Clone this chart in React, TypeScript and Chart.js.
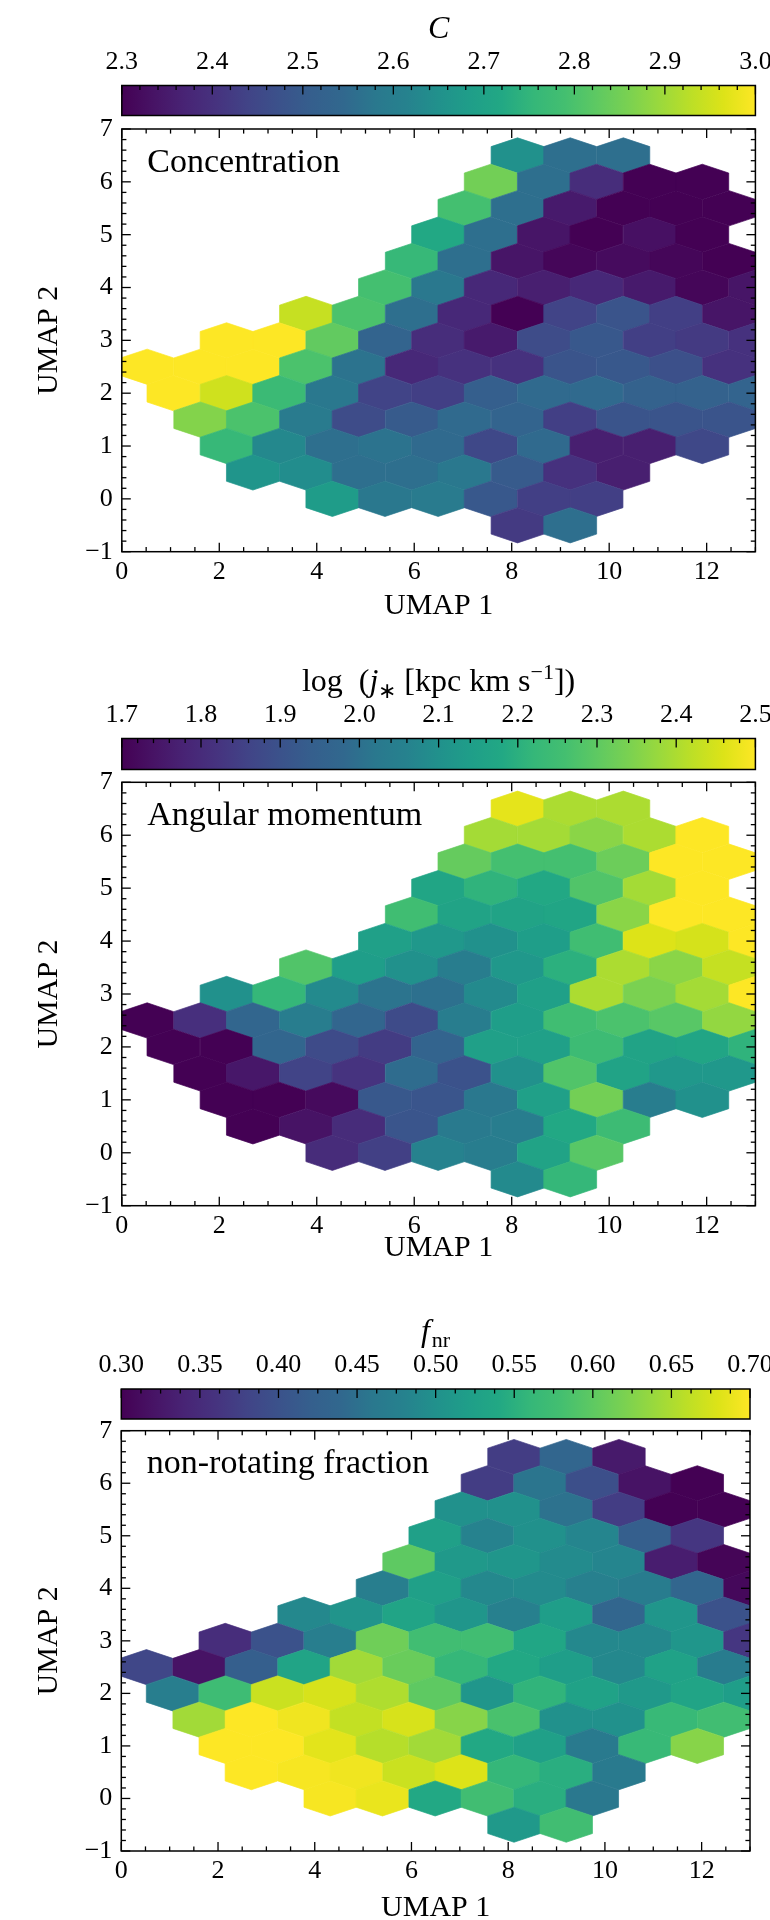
import React, { useEffect, useRef } from "react";
import { Chart, registerables } from "chart.js";
Chart.register(...registerables);

const SERIF = '"Liberation Serif", "Times New Roman", serif';

// ---------------- hexbin grid (UMAP coordinates of bin centres) ----------------
const rowY = [6.5, 6, 5.5, 5, 4.5, 4, 3.5, 3, 2.5, 2, 1.5, 1, 0.5, 0, -0.5];
const rowX = [
  [8.12, 9.2, 10.29],
  [7.57, 8.66, 9.74, 10.83, 11.91],
  [7.03, 8.12, 9.2, 10.29, 11.37, 12.46],
  [6.49, 7.57, 8.66, 9.74, 10.83, 11.91],
  [5.95, 7.03, 8.12, 9.2, 10.29, 11.37, 12.46],
  [5.4, 6.49, 7.57, 8.66, 9.74, 10.83, 11.91, 13.0],
  [3.78, 4.86, 5.95, 7.03, 8.12, 9.2, 10.29, 11.37, 12.46],
  [2.15, 3.23, 4.32, 5.4, 6.49, 7.57, 8.66, 9.74, 10.83, 11.91, 13.0],
  [0.52, 1.61, 2.69, 3.78, 4.86, 5.95, 7.03, 8.12, 9.2, 10.29, 11.37, 12.46],
  [1.06, 2.15, 3.23, 4.32, 5.4, 6.49, 7.57, 8.66, 9.74, 10.83, 11.91, 13.0],
  [1.61, 2.69, 3.78, 4.86, 5.95, 7.03, 8.12, 9.2, 10.29, 11.37, 12.46],
  [2.15, 3.23, 4.32, 5.4, 6.49, 7.57, 8.66, 9.74, 10.83, 11.91],
  [2.69, 3.78, 4.86, 5.95, 7.03, 8.12, 9.2, 10.29],
  [4.32, 5.4, 6.49, 7.57, 8.66, 9.74],
  [8.12, 9.2],
];

// concentration C
const concentration = [
  [2.65, 2.56, 2.56],
  [2.85, 2.56, 2.39, 2.29, 2.29],
  [2.79, 2.56, 2.35, 2.29, 2.29, 2.29],
  [2.72, 2.56, 2.34, 2.29, 2.33, 2.29],
  [2.76, 2.56, 2.34, 2.31, 2.32, 2.31, 2.3],
  [2.79, 2.58, 2.38, 2.36, 2.38, 2.35, 2.31, 2.34],
  [2.94, 2.8, 2.56, 2.38, 2.29, 2.44, 2.48, 2.43, 2.34],
  [3.01, 3.01, 2.83, 2.53, 2.39, 2.35, 2.46, 2.49, 2.43, 2.42, 2.4],
  [3.03, 3.05, 3.02, 2.8, 2.57, 2.38, 2.4, 2.4, 2.48, 2.49, 2.47, 2.4],
  [3.02, 2.95, 2.77, 2.58, 2.44, 2.43, 2.51, 2.55, 2.55, 2.52, 2.52, 2.53],
  [2.87, 2.8, 2.59, 2.46, 2.5, 2.55, 2.53, 2.43, 2.48, 2.48, 2.48],
  [2.76, 2.63, 2.56, 2.57, 2.55, 2.45, 2.55, 2.36, 2.36, 2.45],
  [2.66, 2.64, 2.56, 2.56, 2.58, 2.5, 2.4, 2.36],
  [2.68, 2.58, 2.59, 2.49, 2.43, 2.43],
  [2.42, 2.56],
];

// log j* [kpc km/s]
const logJ = [
  [2.47, 2.4, 2.4],
  [2.39, 2.39, 2.36, 2.4, 2.52],
  [2.31, 2.26, 2.26, 2.32, 2.53, 2.55],
  [2.17, 2.21, 2.18, 2.28, 2.39, 2.54],
  [2.25, 2.16, 2.16, 2.17, 2.36, 2.56, 2.53],
  [2.15, 2.12, 2.1, 2.14, 2.25, 2.46, 2.45, 2.52],
  [2.28, 2.14, 2.1, 2.04, 2.12, 2.2, 2.4, 2.36, 2.43],
  [2.1, 2.22, 2.08, 2.01, 2.0, 2.08, 2.15, 2.4, 2.34, 2.39, 2.51],
  [1.66, 1.81, 1.97, 2.04, 1.97, 1.88, 2.04, 2.14, 2.25, 2.27, 2.29, 2.37],
  [1.64, 1.67, 1.97, 1.88, 1.84, 1.96, 2.15, 2.15, 2.24, 2.16, 2.17, 2.21],
  [1.62, 1.75, 1.86, 1.82, 1.99, 1.9, 2.1, 2.28, 2.16, 2.12, 2.12],
  [1.63, 1.65, 1.72, 1.92, 1.91, 2.02, 2.15, 2.33, 2.04, 2.1],
  [1.66, 1.74, 1.8, 1.91, 2.03, 2.04, 2.18, 2.24],
  [1.8, 1.85, 2.06, 2.04, 2.16, 2.29],
  [2.08, 2.22],
];

// non-rotating fraction f_nr
const fNR = [
  [0.372, 0.436, 0.328],
  [0.372, 0.456, 0.396, 0.32, 0.295],
  [0.5, 0.5, 0.452, 0.372, 0.29, 0.292],
  [0.524, 0.48, 0.5, 0.484, 0.42, 0.364],
  [0.6, 0.512, 0.508, 0.492, 0.484, 0.332, 0.304],
  [0.472, 0.524, 0.488, 0.492, 0.476, 0.468, 0.436, 0.308],
  [0.488, 0.504, 0.532, 0.508, 0.476, 0.52, 0.436, 0.508, 0.4],
  [0.352, 0.4, 0.472, 0.612, 0.576, 0.576, 0.536, 0.488, 0.488, 0.508, 0.364],
  [0.384, 0.32, 0.42, 0.532, 0.644, 0.608, 0.56, 0.54, 0.52, 0.488, 0.528, 0.468],
  [0.472, 0.572, 0.668, 0.676, 0.652, 0.6, 0.508, 0.556, 0.528, 0.512, 0.532, 0.52],
  [0.644, 0.708, 0.692, 0.664, 0.676, 0.628, 0.584, 0.5, 0.5, 0.564, 0.576],
  [0.712, 0.705, 0.684, 0.656, 0.644, 0.54, 0.524, 0.464, 0.564, 0.628],
  [0.71, 0.696, 0.692, 0.668, 0.68, 0.56, 0.548, 0.464],
  [0.696, 0.688, 0.54, 0.576, 0.548, 0.46],
  [0.512, 0.576],
];

// hexagon size in data units (width, vertical lattice period)
const HEX_W = 1.085;
const HEX_H = 1.0;

// tick labels
const umap1Ticks = [0, 2, 4, 6, 8, 10, 12];
const umap2Ticks = [-1, 0, 1, 2, 3, 4, 5, 6, 7];
const cTicks = [2.3, 2.4, 2.5, 2.6, 2.7, 2.8, 2.9, 3.0];
const jTicks = [1.7, 1.8, 1.9, 2.0, 2.1, 2.2, 2.3, 2.4, 2.5];
const fTicks = [0.3, 0.35, 0.4, 0.45, 0.5, 0.55, 0.6, 0.65, 0.7];

// viridis colormap stops (t = i/20)
const VIRIDIS = [
  [68, 1, 84], [71, 19, 101], [72, 36, 117], [70, 51, 127], [65, 68, 135],
  [59, 82, 139], [53, 95, 141], [49, 104, 142], [42, 120, 142], [38, 130, 142],
  [33, 145, 140], [31, 158, 137], [34, 168, 132], [53, 183, 121], [68, 191, 112],
  [94, 201, 98], [122, 209, 81], [155, 217, 60], [189, 223, 38], [221, 227, 24],
  [253, 231, 37],
];

function viridis(t: number): string {
  const c = Math.min(1, Math.max(0, t)) * (VIRIDIS.length - 1);
  const i = Math.min(VIRIDIS.length - 2, Math.floor(c));
  const f = c - i;
  const a = VIRIDIS[i], b = VIRIDIS[i + 1];
  const r = Math.round(a[0] + (b[0] - a[0]) * f);
  const g = Math.round(a[1] + (b[1] - a[1]) * f);
  const bl = Math.round(a[2] + (b[2] - a[2]) * f);
  return `rgb(${r},${g},${bl})`;
}

type Part = { t: string; it?: boolean; size?: number; dy?: number };

const TITLE_SIZE = 32;
const SUB_SIZE = 22;
const TICK_SIZE = 26;
const LABEL_SIZE = 30;

function drawRich(ctx: CanvasRenderingContext2D, parts: Part[], cx: number, baseY: number) {
  const font = (p: Part) => `${p.it ? "italic " : ""}${p.size || TITLE_SIZE}px ${SERIF}`;
  let total = 0;
  parts.forEach((p) => {
    ctx.font = font(p);
    total += ctx.measureText(p.t).width;
  });
  let x = cx - total / 2;
  ctx.textAlign = "left";
  ctx.textBaseline = "alphabetic";
  ctx.fillStyle = "#000";
  parts.forEach((p) => {
    ctx.font = font(p);
    ctx.fillText(p.t, x, baseY + (p.dy || 0));
    x += ctx.measureText(p.t).width;
  });
}

const signed = (v: number) => (v < 0 ? "\u2212" + Math.abs(v) : String(v));

type PanelCfg = {
  values: number[][];
  ticks: number[];
  vmin: number;
  vmax: number;
  dec: number;
  minorDiv: number;
  title: Part[];
  label: string;
  L: number; R: number; T: number; B: number;
  cbT: number; cbB: number; xlab: number;
};

const PANELS: PanelCfg[] = [
  {
    values: concentration, ticks: cTicks, vmin: 2.3, vmax: 3.0, dec: 1, minorDiv: 5,
    title: [{ t: "C", it: true }], label: "Concentration",
    L: 121.8, R: 755.4, T: 129, B: 551.7, cbT: 85.5, cbB: 115.5, xlab: 606,
  },
  {
    values: logJ, ticks: jTicks, vmin: 1.7, vmax: 2.5, dec: 1, minorDiv: 5,
    title: [
      { t: "log\u2002(" }, { t: "j", it: true }, { t: "\u2217", size: SUB_SIZE, dy: 7 },
      { t: " [kpc km s" }, { t: "\u22121", size: SUB_SIZE, dy: -12 }, { t: "])" },
    ],
    label: "Angular momentum",
    L: 121.8, R: 755.4, T: 782.3, B: 1205.7, cbT: 738.5, cbB: 769.5, xlab: 1248,
  },
  {
    values: fNR, ticks: fTicks, vmin: 0.3, vmax: 0.7, dec: 2, minorDiv: 4,
    title: [{ t: "f", it: true }, { t: "\u200anr", size: SUB_SIZE, dy: 6 }],
    label: "non-rotating fraction",
    L: 121.3, R: 750, T: 1430.7, B: 1851, cbT: 1389, cbB: 1419, xlab: 1908,
  },
];

const MAJOR = 9;
const MINOR = 4.6;

function line(ctx: CanvasRenderingContext2D, x1: number, y1: number, x2: number, y2: number) {
  ctx.beginPath();
  ctx.moveTo(x1, y1);
  ctx.lineTo(x2, y2);
  ctx.stroke();
}

function Panel({ cfg }: { cfg: PanelCfg }) {
  const cbRef = useRef<HTMLCanvasElement>(null);
  const plotRef = useRef<HTMLCanvasElement>(null);

  const cbTop = Math.floor(cfg.cbT - 80);
  const cbPadTop = cfg.cbT - cbTop;
  const cbH = Math.ceil(cfg.cbB - cbTop + 4);

  const plTop = Math.floor(cfg.T - 12);
  const plPadTop = cfg.T - plTop;
  const plH = Math.ceil(cfg.xlab + 22 - plTop);

  useEffect(() => {
    // ---------------- colorbar ----------------
    const cbPlugin = {
      id: "colorbar",
      afterDraw(chart: any) {
        const { ctx, chartArea: a, scales } = chart;
        const x = scales.x;
        ctx.save();
        const g = ctx.createLinearGradient(a.left, 0, a.right, 0);
        VIRIDIS.forEach((c, i) => g.addColorStop(i / (VIRIDIS.length - 1), `rgb(${c[0]},${c[1]},${c[2]})`));
        ctx.fillStyle = g;
        ctx.fillRect(a.left, a.top, a.right - a.left, a.bottom - a.top);
        ctx.strokeStyle = "#000";
        ctx.lineWidth = 1.5;
        ctx.strokeRect(a.left, a.top, a.right - a.left, a.bottom - a.top);
        ctx.lineWidth = 1.3;
        const step = (cfg.ticks[1] - cfg.ticks[0]) / cfg.minorDiv;
        for (let k = 0; cfg.vmin + k * step <= cfg.vmax + 1e-9; k++) {
          const v = cfg.vmin + k * step;
          const p = x.getPixelForValue(v);
          const isMajor = k % cfg.minorDiv === 0;
          line(ctx, p, a.top, p, a.top + (isMajor ? MAJOR : MINOR));
        }
        drawRich(ctx, cfg.title, (a.left + a.right) / 2, a.top - 48);
        ctx.restore();
      },
    };

    const cb = new Chart(cbRef.current!, {
      type: "scatter",
      data: { datasets: [{ data: [], pointRadius: 0 }] },
      options: {
        animation: false,
        responsive: false,
        events: [],
        layout: {
          autoPadding: false,
          padding: { left: cfg.L, right: 770 - cfg.R, top: 0, bottom: cbH - (cfg.cbB - cbTop) },
        },
        plugins: { legend: { display: false }, tooltip: { enabled: false } },
        scales: {
          x: {
            type: "linear",
            position: "top",
            min: cfg.vmin,
            max: cfg.vmax,
            grid: { display: false, drawTicks: false },
            border: { display: false },
            afterBuildTicks: (s: any) => {
              s.ticks = cfg.ticks.map((v) => ({ value: v }));
            },
            afterFit: (s: any) => {
              s.height = cbPadTop;
              s.paddingLeft = 0;
              s.paddingRight = 0;
            },
            ticks: {
              autoSkip: false,
              maxRotation: 0,
              padding: 8,
              color: "#000",
              font: { family: SERIF, size: TICK_SIZE },
              callback: (v: any) => Number(v).toFixed(cfg.dec),
            },
          },
          y: { display: false, min: 0, max: 1 },
        },
      } as any,
      plugins: [cbPlugin],
    });

    // ---------------- hexbin plot ----------------
    const cells: { x: number; y: number; v: number }[] = [];
    rowY.forEach((y, i) => rowX[i].forEach((x, j) => cells.push({ x, y, v: cfg.values[i][j] })));

    const hexPlugin = {
      id: "hexbins",
      beforeDatasetsDraw(chart: any) {
        const { ctx, chartArea: a, scales } = chart;
        const xs = scales.x, ys = scales.y;
        ctx.save();
        ctx.beginPath();
        ctx.rect(a.left, a.top, a.right - a.left, a.bottom - a.top);
        ctx.clip();
        chart.data.datasets[0].data.forEach((c: any) => {
          const col = viridis((c.v - cfg.vmin) / (cfg.vmax - cfg.vmin));
          const x0 = xs.getPixelForValue(c.x - HEX_W / 2);
          const x1 = xs.getPixelForValue(c.x);
          const x2 = xs.getPixelForValue(c.x + HEX_W / 2);
          const y0 = ys.getPixelForValue(c.y + HEX_H / 3);
          const y1 = ys.getPixelForValue(c.y + HEX_H / 6);
          const y2 = ys.getPixelForValue(c.y - HEX_H / 6);
          const y3 = ys.getPixelForValue(c.y - HEX_H / 3);
          ctx.beginPath();
          ctx.moveTo(x1, y0);
          ctx.lineTo(x2, y1);
          ctx.lineTo(x2, y2);
          ctx.lineTo(x1, y3);
          ctx.lineTo(x0, y2);
          ctx.lineTo(x0, y1);
          ctx.closePath();
          ctx.fillStyle = col;
          ctx.fill();
          ctx.strokeStyle = col;
          ctx.lineWidth = 0.7;
          ctx.stroke();
        });
        ctx.restore();
      },
    };

    const framePlugin = {
      id: "frame",
      afterDraw(chart: any) {
        const { ctx, chartArea: a, scales } = chart;
        const xs = scales.x, ys = scales.y;
        ctx.save();
        ctx.strokeStyle = "#000";
        ctx.lineWidth = 1.3;
        // x ticks (bottom + top, inward)
        for (let k = 0; k * 0.5 <= 13 + 1e-9; k++) {
          const v = k * 0.5;
          const p = xs.getPixelForValue(v);
          const len = k % 4 === 0 ? MAJOR : MINOR;
          line(ctx, p, a.bottom, p, a.bottom - len);
          line(ctx, p, a.top, p, a.top + len);
        }
        // y ticks (left + right, inward)
        for (let k = 0; k <= 40; k++) {
          const v = -1 + k * 0.2;
          const p = ys.getPixelForValue(v);
          const len = k % 5 === 0 ? MAJOR : MINOR;
          line(ctx, a.left, p, a.left + len, p);
          line(ctx, a.right, p, a.right - len, p);
        }
        ctx.lineWidth = 1.5;
        ctx.strokeRect(a.left, a.top, a.right - a.left, a.bottom - a.top);
        // panel annotation
        ctx.fillStyle = "#000";
        ctx.font = `34px ${SERIF}`;
        ctx.textAlign = "left";
        ctx.textBaseline = "alphabetic";
        ctx.fillText(cfg.label, a.left + 25.5, a.top + 42.7);
        ctx.restore();
      },
    };

    const xTitleCenterFromBottom = 22;
    const plot = new Chart(plotRef.current!, {
      type: "scatter",
      data: { datasets: [{ data: cells, pointRadius: 0, pointHoverRadius: 0 }] },
      options: {
        animation: false,
        responsive: false,
        events: [],
        layout: {
          autoPadding: false,
          padding: { left: 0, right: 770 - cfg.R, top: plPadTop, bottom: 0 },
        },
        plugins: { legend: { display: false }, tooltip: { enabled: false } },
        scales: {
          x: {
            type: "linear",
            position: "bottom",
            min: 0,
            max: 13,
            grid: { display: false, drawTicks: false },
            border: { display: false },
            afterBuildTicks: (s: any) => {
              s.ticks = umap1Ticks.map((v) => ({ value: v }));
            },
            afterFit: (s: any) => {
              s.height = plH - plPadTop - (cfg.B - cfg.T);
              s.paddingLeft = 0;
              s.paddingRight = 0;
            },
            ticks: {
              autoSkip: false,
              maxRotation: 0,
              padding: 5,
              color: "#000",
              font: { family: SERIF, size: TICK_SIZE },
              callback: (v: any) => signed(Number(v)),
            },
            title: {
              display: true,
              text: "UMAP 1",
              color: "#000",
              font: { family: SERIF, size: LABEL_SIZE },
              padding: { top: 0, bottom: xTitleCenterFromBottom - LABEL_SIZE * 0.6 },
            },
          },
          y: {
            type: "linear",
            position: "left",
            min: -1,
            max: 7,
            grid: { display: false, drawTicks: false },
            border: { display: false },
            afterBuildTicks: (s: any) => {
              s.ticks = umap2Ticks.map((v) => ({ value: v }));
            },
            afterFit: (s: any) => {
              s.width = cfg.L;
              s.paddingTop = 0;
              s.paddingBottom = 0;
            },
            ticks: {
              autoSkip: false,
              padding: 9,
              color: "#000",
              font: { family: SERIF, size: TICK_SIZE },
              callback: (v: any) => signed(Number(v)),
            },
            title: {
              display: true,
              text: "UMAP 2",
              color: "#000",
              font: { family: SERIF, size: LABEL_SIZE },
              padding: { top: 49 - LABEL_SIZE * 0.6, bottom: 0 },
            },
          },
        },
      } as any,
      plugins: [hexPlugin, framePlugin],
    });

    return () => {
      cb.destroy();
      plot.destroy();
    };
  }, []);

  return (
    <>
      <canvas
        ref={cbRef}
        width={770}
        height={cbH}
        style={{ position: "absolute", left: 0, top: cbTop, width: 770, height: cbH }}
      />
      <canvas
        ref={plotRef}
        width={770}
        height={plH}
        style={{ position: "absolute", left: 0, top: plTop, width: 770, height: plH }}
      />
    </>
  );
}

export default function App() {
  return (
    <div
      style={{
        position: "absolute",
        left: 0,
        top: 0,
        width: 770,
        height: 1920,
        background: "#fff",
        overflow: "hidden",
      }}
    >
      {PANELS.map((p, i) => (
        <Panel key={i} cfg={p} />
      ))}
    </div>
  );
}
